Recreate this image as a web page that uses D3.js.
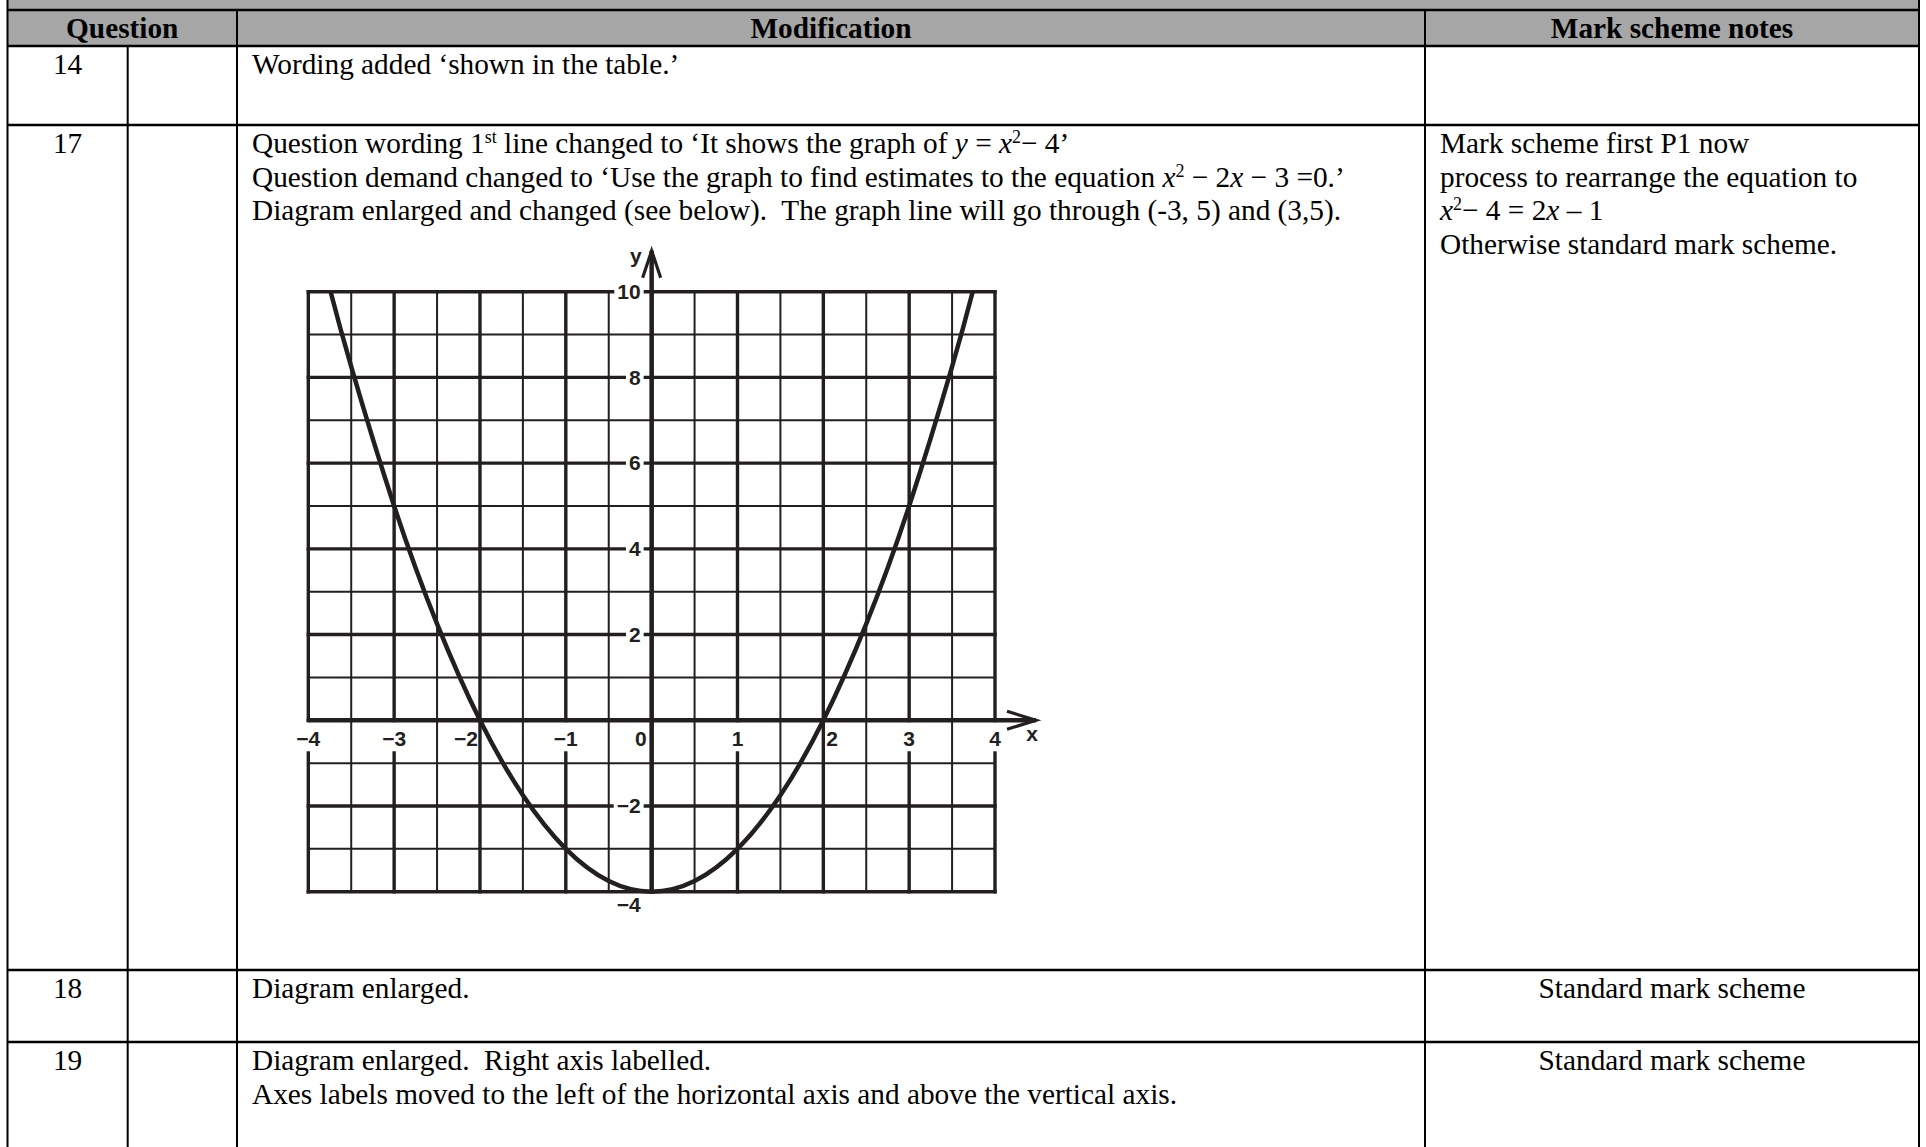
<!DOCTYPE html>
<html>
<head>
	<title>Modifications table</title>
	<script src="https://d3js.org/d3.v7.min.js" charset="utf-8"></script>
	<style>
		body { margin: 0; background: #fff; }
		svg { display: block; }
		.cell { font-family: "Liberation Serif", "Times New Roman", serif; font-size: 29.3px; fill: #000; white-space: pre; }
		.head { font-weight: bold; }
		.tick { font-family: "Liberation Sans", Arial, sans-serif; font-weight: bold; font-size: 21px; fill: #231f20; }
	</style>
</head>
<body>
	<script>
		// TABLE DATA
		var questions = ["14", "17", "18", "19"];
		var headers = ["Question", "Modification", "Mark scheme notes"];
		var modifications = [
			["Wording added \u2018shown in the table.\u2019"],
			["Question wording 1^{st} line changed to \u2018It shows the graph of _y_ = _x_^{2}\u2212 4\u2019",
			 "Question demand changed to \u2018Use the graph to find estimates to the equation _x_^{2} \u2212 2_x_ \u2212 3 =0.\u2019",
			 "Diagram enlarged and changed (see below).  The graph line will go through (-3, 5) and (3,5)."],
			["Diagram enlarged."],
			["Diagram enlarged.  Right axis labelled.",
			 "Axes labels moved to the left of the horizontal axis and above the vertical axis."]
		];
		var notes = [
			[],
			["Mark scheme first P1 now", "process to rearrange the equation to", "_x_^{2}\u2212 4 = 2_x_ \u2013 1", "Otherwise standard mark scheme."],
			["Standard mark scheme"],
			["Standard mark scheme"]
		];
		var notesCentered = [false, false, true, true];

		// GRAPH DATA
		var xTicks = [-4, -3, -2, -1, 0, 1, 2, 3, 4];
		var xTickLabels = ["\u22124", "\u22123", "\u22122", "\u22121", "0", "1", "2", "3", "4"];
		var yTicks = [10, 8, 6, 4, 2, -2, -4];
		var yTickLabels = ["10", "8", "6", "4", "2", "\u22122", "\u22124"];
		var curveX = [-3.74, -3.5, -3, -2.5, -2, -1.5, -1, -0.5, 0, 0.5, 1, 1.5, 2, 2.5, 3, 3.5, 3.74];
		var curveY = [10, 8.25, 5, 2.25, 0, -1.75, -3, -3.75, -4, -3.75, -3, -1.75, 0, 2.25, 5, 8.25, 10];

		// SET UP SVG
		var width = 1926, height = 1147;
		var svg = d3.select("body").append("svg")
			.attr("width", width)
			.attr("height", height);

		// table geometry
		var left = 7.5, right = 1919, qDiv = 127.7, modX = 237, notesX = 1425;
		var tableTop = 10, headBottom = 46;
		var rowTops = [46, 125, 970, 1042];
		var lineH = 33.7;
		var ink = "#000";

		svg.append("rect").attr("x", left).attr("y", 0)
			.attr("width", right - left).attr("height", headBottom).attr("fill", "#a6a6a6");

		// horizontal rules
		[tableTop, headBottom, rowTops[1], rowTops[2], rowTops[3]].forEach(function(yy){
			svg.append("line").attr("x1", left).attr("x2", right).attr("y1", yy).attr("y2", yy)
				.attr("stroke", ink).attr("stroke-width", 2.6);
		});
		// vertical rules
		svg.append("line").attr("x1", left).attr("x2", left).attr("y1", 0).attr("y2", height).attr("stroke", ink).attr("stroke-width", 2);
		svg.append("line").attr("x1", right).attr("x2", right).attr("y1", 0).attr("y2", height).attr("stroke", ink).attr("stroke-width", 2);
		[modX, notesX].forEach(function(xx){
			svg.append("line").attr("x1", xx).attr("x2", xx).attr("y1", tableTop).attr("y2", height).attr("stroke", ink).attr("stroke-width", 2);
		});
		svg.append("line").attr("x1", qDiv).attr("x2", qDiv).attr("y1", headBottom).attr("y2", height).attr("stroke", ink).attr("stroke-width", 2);

		// rich text: ^{..} superscript, _.._ italic
		function richText(sel, str) {
			var parts = str.split(/(\^\{[^}]*\}|_[^_]*_)/);
			var raised = false;
			parts.forEach(function(p){
				if (p === "") return;
				var t = sel.append("tspan");
				if (p.charAt(0) == "^") {
					t.text(p.slice(2, -1)).attr("font-size", "18px").attr("dy", -10);
					raised = true;
				} else {
					if (p.charAt(0) == "_" && p.length > 1) {
						t.text(p.slice(1, -1)).attr("font-style", "italic");
					} else {
						t.text(p);
					}
					if (raised) { t.attr("dy", 10); raised = false; }
				}
			});
		}

		// header
		var headCenters = [(left + modX) / 2, (modX + notesX) / 2, (notesX + right) / 2];
		headers.forEach(function(h, i){
			svg.append("text").attr("class", "cell head")
				.attr("x", headCenters[i]).attr("y", 38)
				.attr("text-anchor", "middle").text(h);
		});

		// rows
		questions.forEach(function(q, i){
			var base = rowTops[i] + 28;
			svg.append("text").attr("class", "cell")
				.attr("x", (left + qDiv) / 2).attr("y", base)
				.attr("text-anchor", "middle").text(q);
			modifications[i].forEach(function(line, j){
				var t = svg.append("text").attr("class", "cell")
					.attr("x", modX + 15).attr("y", base + j * lineH);
				richText(t, line);
			});
			notes[i].forEach(function(line, j){
				var t = svg.append("text").attr("class", "cell")
					.attr("y", base + j * lineH);
				if (notesCentered[i]) t.attr("x", (notesX + right) / 2).attr("text-anchor", "middle");
				else t.attr("x", notesX + 15);
				richText(t, line);
			});
		});

		// GRAPH
		var x = d3.scaleLinear().domain([-4, 4]).range([308.3, 995]);
		var y = d3.scaleLinear().domain([-4, 10]).range([891.7, 291.7]);
		var g = svg.append("g").attr("class", "graph");
		var gridInk = "#231f20";

		d3.range(-4, 4.01, 0.5).forEach(function(v){
			var major = Math.abs(v % 1) < 1e-6;
			g.append("line").attr("x1", x(v)).attr("x2", x(v))
				.attr("y1", y(10)).attr("y2", y(-4))
				.attr("stroke", gridInk).attr("stroke-width", major ? 3.4 : 2)
				.attr("stroke-linecap", "square");
		});
		d3.range(-4, 10.01, 1).forEach(function(v){
			var major = Math.abs(v % 2) < 1e-6;
			g.append("line").attr("x1", x(-4)).attr("x2", x(4))
				.attr("y1", y(v)).attr("y2", y(v))
				.attr("stroke", gridInk).attr("stroke-width", major ? 3.4 : 2)
				.attr("stroke-linecap", "square");
		});

		var boxes = g.append("g");
		var labels = g.append("g");
		var axisG = g.append("g");

		// axes
		axisG.append("line").attr("x1", x(0)).attr("x2", x(0))
			.attr("y1", y(-4)).attr("y2", y(10) - 41)
			.attr("stroke", gridInk).attr("stroke-width", 4.5);
		axisG.append("line").attr("x1", x(-4)).attr("x2", x(4) + 41)
			.attr("y1", y(0)).attr("y2", y(0))
			.attr("stroke", gridInk).attr("stroke-width", 4.5);
		// arrow heads
		axisG.append("path")
			.attr("d", "M" + (x(0) - 9) + "," + (y(10) - 14) + "L" + x(0) + "," + (y(10) - 41) + "L" + (x(0) + 9) + "," + (y(10) - 14))
			.attr("fill", "none").attr("stroke", gridInk).attr("stroke-width", 3.2);
		axisG.append("path")
			.attr("d", "M" + (x(4) + 12) + "," + (y(0) - 9) + "L" + (x(4) + 41) + "," + y(0) + "L" + (x(4) + 12) + "," + (y(0) + 9))
			.attr("fill", "none").attr("stroke", gridInk).attr("stroke-width", 3.2);

		// x tick labels
		xTicks.forEach(function(v, i){
			var anchor = "middle", tx = x(v);
			if (v == 0) { anchor = "end"; tx = x(0) - 5; }
			else if (v == -2) { anchor = "end"; tx = x(v) - 2; }
			else if (v == 2) { anchor = "start"; tx = x(v) + 3; }
			var t = labels.append("text").attr("class", "tick")
				.attr("x", tx).attr("y", y(0) + 18).attr("dy", "0.35em")
				.attr("text-anchor", anchor).text(xTickLabels[i]);
			if (v != 0 && v != -2 && v != 2) {
				var b = t.node().getBBox();
				boxes.append("rect").attr("x", b.x - 3).attr("y", y(0) + 2)
					.attr("width", b.width + 6).attr("height", 29).attr("fill", "#fff");
			}
		});
		// y tick labels
		yTicks.forEach(function(v, i){
			var ty = (v == -4) ? y(v) + 13 : y(v);
			var t = labels.append("text").attr("class", "tick")
				.attr("x", x(0) - 11).attr("y", ty).attr("dy", "0.35em")
				.attr("text-anchor", "end").text(yTickLabels[i]);
			if (v != -4) {
				var b = t.node().getBBox();
				boxes.append("rect").attr("x", b.x - 3).attr("y", y(v) - 10)
					.attr("width", x(0) - 8 - (b.x - 3)).attr("height", 20).attr("fill", "#fff");
			}
		});
		labels.append("text").attr("class", "tick").attr("x", x(0) - 10).attr("y", y(10) - 29)
			.attr("text-anchor", "end").text("y");
		labels.append("text").attr("class", "tick").attr("x", x(4) + 43).attr("y", y(0) + 21)
			.attr("text-anchor", "end").text("x");

		// the curve
		var line = d3.line()
			.x(function(d){ return x(d[0]); })
			.y(function(d){ return y(d[1]); })
			.curve(d3.curveNatural);
		g.append("path").datum(d3.zip(curveX, curveY))
			.attr("d", line)
			.attr("fill", "none").attr("stroke", gridInk).attr("stroke-width", 4.5);
	</script>
</body>
</html>
